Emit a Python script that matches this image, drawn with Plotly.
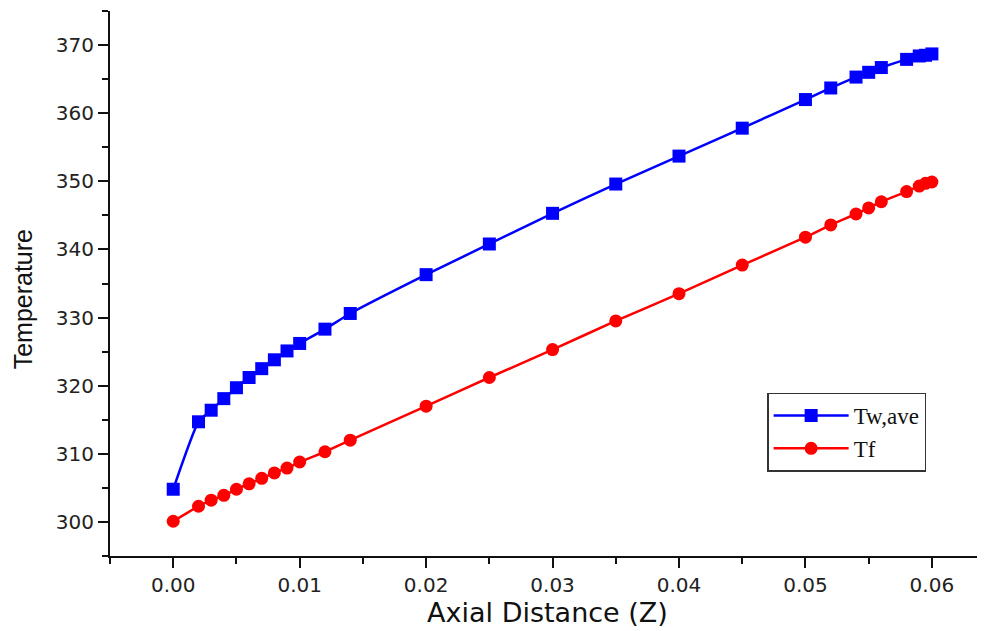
import plotly.graph_objects as go

# Axial distance (Z) sample positions
z_wall = [0.0, 0.002, 0.003, 0.004, 0.005, 0.006, 0.007, 0.008, 0.009, 0.010,
          0.012, 0.014, 0.020, 0.025, 0.030, 0.035, 0.040, 0.045, 0.050, 0.052,
          0.054, 0.055, 0.056, 0.058, 0.059, 0.0595, 0.060]
t_wall_ave = [304.8, 314.7, 316.4, 318.1, 319.7, 321.2, 322.5, 323.8, 325.1, 326.2,
              328.3, 330.6, 336.3, 340.8, 345.3, 349.6, 353.7, 357.8, 362.0, 363.7,
              365.3, 366.0, 366.7, 367.9, 368.4, 368.5, 368.7]

z_fluid = [0.0, 0.002, 0.003, 0.004, 0.005, 0.006, 0.007, 0.008, 0.009, 0.010,
           0.012, 0.014, 0.020, 0.025, 0.030, 0.035, 0.040, 0.045, 0.050, 0.052,
           0.054, 0.055, 0.056, 0.058, 0.059, 0.0595, 0.060]
t_fluid = [300.1, 302.3, 303.2, 303.9, 304.8, 305.6, 306.4, 307.2, 307.9, 308.8,
           310.3, 312.0, 317.0, 321.2, 325.3, 329.5, 333.5, 337.7, 341.8, 343.6,
           345.2, 346.1, 347.0, 348.5, 349.3, 349.7, 349.9]

series_names = ["Tw,ave", "Tf"]
x_title = "Axial Distance (Z)"
y_title = "Temperature"

fig = go.Figure()
fig.add_trace(go.Scatter(
    x=z_wall, y=t_wall_ave, name=series_names[0], mode="lines+markers",
    line=dict(color="#0000FF", width=2.5, shape="spline", smoothing=0.5),
    marker=dict(symbol="square", size=13, color="#0000FF"),
))
fig.add_trace(go.Scatter(
    x=z_fluid, y=t_fluid, name=series_names[1], mode="lines+markers",
    line=dict(color="#FF0000", width=2.5, shape="spline", smoothing=0.5),
    marker=dict(symbol="circle", size=13, color="#FF0000"),
))

axis_common = dict(
    showline=True, linecolor="#111", linewidth=2, showgrid=False, zeroline=False,
    ticks="outside", ticklen=10, tickwidth=2, tickcolor="#111", automargin=False,
    tickfont=dict(family="DejaVu Sans", size=20, color="#222"),
)

fig.update_xaxes(
    range=[-0.005, 0.0642], dtick=0.01, tick0=0, tickformat=".2f",
    minor=dict(dtick=0.005, ticklen=6, tickwidth=2, tickcolor="#111", ticks="outside"),
    title=dict(text=x_title, font=dict(family="DejaVu Sans", size=27, color="#111"),
               standoff=4),
    **axis_common,
)
fig.update_yaxes(
    range=[295, 375], dtick=10, tick0=300,
    minor=dict(dtick=5, ticklen=6, tickwidth=2, tickcolor="#111", ticks="outside"),
    **axis_common,
)

fig.add_annotation(
    text=y_title, xref="paper", yref="paper", x=-0.1, y=0.47,
    xanchor="center", yanchor="middle", textangle=-90, showarrow=False,
    font=dict(family="Liberation Sans, Arial", size=25, color="#111"),
)

# The page body adds an 8 px offset, so the figure is 977x623 placed at (8, 8)
fig.update_layout(
    width=977, height=623,
    margin=dict(l=102, r=0, t=3, b=75),
    plot_bgcolor="white", paper_bgcolor="white",
    legend=dict(
        x=0.751, y=0.30, xanchor="left", yanchor="top",
        bordercolor="#333", borderwidth=1.5, bgcolor="white",
        font=dict(family="Liberation Serif, Times New Roman", size=23, color="#111"),
        tracegroupgap=0, itemwidth=75,
    ),
    showlegend=True,
)

fig.write_html("out.html")
